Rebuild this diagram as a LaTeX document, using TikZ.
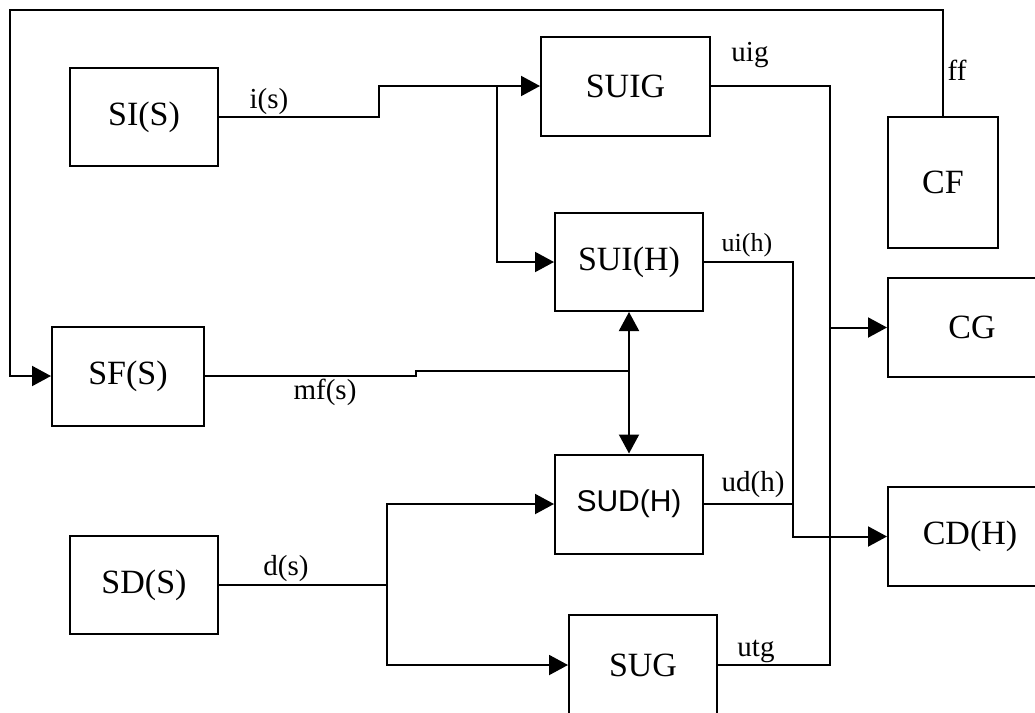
\documentclass[tikz,border=0pt]{standalone}
\usepackage{fontspec}
\setmainfont{Liberation Serif}
\newfontfamily\sansf{Liberation Sans}
\usetikzlibrary{arrows.meta}
\begin{document}
\begin{tikzpicture}[x=1pt,y=-1pt,
 blk/.style={draw,line width=2pt,inner sep=0pt,font=\fontsize{34}{34}\selectfont},
 lbl/.style={inner sep=0pt,font=\fontsize{29}{29}\selectfont},
 wire/.style={line width=2pt},
 arr/.style={wire,-{Triangle[length=19pt,width=20pt]}},
 darr/.style={wire,{Triangle[length=19pt,width=20pt]}-{Triangle[length=19pt,width=20pt]}}]
\useasboundingbox (0,0) rectangle (1035,712);
% blocks
\node[blk,minimum width=148pt,minimum height=98pt] (si) at (144,117) {SI(S)};
\node[blk,minimum width=169pt,minimum height=99pt] (suig) at (625.5,86) {SUIG};
\node[blk,minimum width=110pt,minimum height=131pt] (cf) at (943,182.5) {CF};
\node[blk,minimum width=148pt,minimum height=98pt] (sui) at (629,262) {SUI(H)};
\node[blk,minimum width=168pt,minimum height=99pt] (cg) at (972,327.5) {CG};
\node[blk,minimum width=152pt,minimum height=99pt] (sf) at (128,376) {SF(S)};
\node[blk,minimum width=148pt,minimum height=99pt,font=\sansf\fontsize{30}{30}\selectfont] (sud) at (629,504) {SUD(H)};
\node[blk,minimum width=164pt,minimum height=99pt] (cd) at (970,536.5) {CD(H)};
\node[blk,minimum width=148pt,minimum height=98pt] (sd) at (144,585) {SD(S)};
\node[blk,minimum width=148pt,minimum height=100pt] (sug) at (643,665) {SUG};
% helper coordinates
\coordinate (fb) at (10,10);
\coordinate (s1) at (379,86);
\coordinate (j1) at (497,86);
\coordinate (s2) at (416,371);
\coordinate (bus) at (830,0);
\coordinate (b2) at (793,0);
\coordinate (b3) at (387,0);
% connectors
\draw[arr] (cf.north) |- (fb) |- (sf.west);
\draw[arr] (si.east) -- (si.east -| s1) |- (suig.west);
\draw[arr] (j1) |- (sui.west);
\draw[wire] (sf.east) -- (sf.east -| s2) -- (s2) -- (s2 -| sui.south);
\draw[darr] (sui.south) -- (sud.north);
\draw[wire] (suig.east) -| (bus |- sug.east) -- (sug.east);
\draw[arr] (bus |- cg.west) -- (cg.west);
\draw[arr] (sui.east) -| (b2 |- cd.west) -- (cd.west);
\draw[wire] (sud.east) -- (sud.east -| b2);
\draw[wire] (sd.east) -- (sd.east -| b3);
\draw[arr] (sd.east -| b3) |- (sud.west);
\draw[arr] (sd.east -| b3) |- (sug.west);
% labels
\node[lbl] (lis) at (269,102) {i(s)};
\node[lbl] (luig) at (750,55) {uig};
\node[lbl] (lff) at (957,70) {ff};
\node[lbl,font=\fontsize{26}{26}\selectfont] (luih) at (747,245) {ui(h)};
\node[lbl] (lmf) at (325,392) {mf(s)};
\node[lbl] (ludh) at (753,485) {ud(h)};
\node[lbl] (lds) at (286,569) {d(s)};
\node[lbl] (lutg) at (756,651) {utg};
\end{tikzpicture}
\end{document}
